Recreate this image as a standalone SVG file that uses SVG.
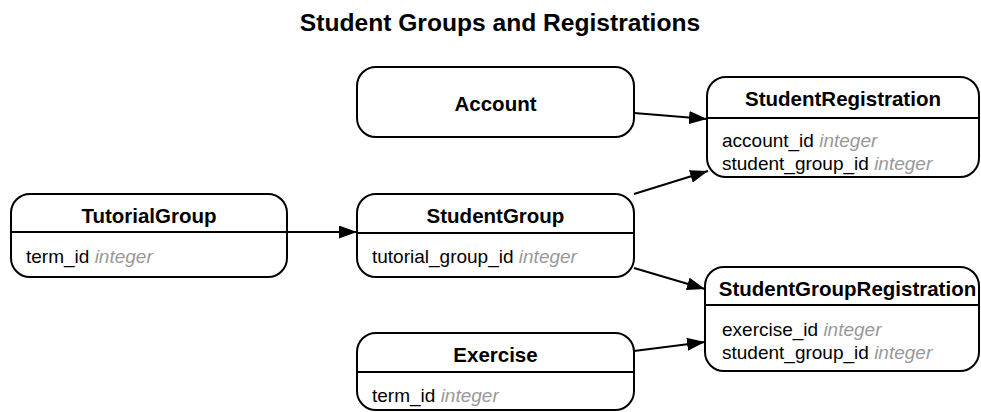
<svg xmlns="http://www.w3.org/2000/svg" width="981" height="412" viewBox="0 0 981 412">
<style>
  .box { fill: #ffffff; stroke: #000000; stroke-width: 2; }
  .div { stroke: #000000; stroke-width: 2; }
  .name { font-family: "Liberation Sans", Arial, sans-serif; font-weight: bold; font-size: 20.5px; fill: #000000; text-anchor: middle; }
  .row { font-family: "Liberation Sans", Arial, sans-serif; font-size: 19px; fill: #000000; }
  .type { font-style: italic; fill: #999999; }
  .title { font-family: "Liberation Sans", Arial, sans-serif; font-weight: bold; font-size: 24.6px; fill: #000000; text-anchor: middle; }
  .edge { stroke: #000000; stroke-width: 2; fill: none; marker-end: url(#arrow); }
</style>
<defs>
  <marker id="arrow" markerUnits="userSpaceOnUse" markerWidth="18" markerHeight="13" refX="18" refY="6.5" orient="auto">
    <path d="M0,0 L18,6.5 L0,13 z" fill="#000000"/>
  </marker>
</defs>
<rect width="981" height="412" fill="#ffffff"/>
<text class="title" x="500" y="31">Student Groups and Registrations</text>

<g id="connectors">
  <line class="edge" x1="287" y1="232" x2="357" y2="232"/>
  <line class="edge" x1="634" y1="113" x2="707" y2="119"/>
  <line class="edge" x1="634" y1="194" x2="708" y2="171"/>
  <line class="edge" x1="634" y1="268" x2="705" y2="289"/>
  <line class="edge" x1="634" y1="351" x2="705" y2="342"/>
</g>

<g id="TutorialGroup">
  <rect class="box" x="11" y="194" width="276" height="83" rx="19"/>
  <line class="div" x1="11" y1="232" x2="287" y2="232"/>
  <text class="name" x="149" y="223">TutorialGroup</text>
  <text class="row" x="26" y="263">term_id <tspan class="type">integer</tspan></text>
</g>

<g id="Account">
  <rect class="box" x="357" y="67" width="277" height="70" rx="19"/>
  <text class="name" x="495.5" y="111">Account</text>
</g>

<g id="StudentGroup">
  <rect class="box" x="357" y="194" width="277" height="83" rx="19"/>
  <line class="div" x1="357" y1="233" x2="634" y2="233"/>
  <text class="name" x="495.5" y="223">StudentGroup</text>
  <text class="row" x="372" y="263">tutorial_group_id <tspan class="type">integer</tspan></text>
</g>

<g id="Exercise">
  <rect class="box" x="357" y="333" width="277" height="77" rx="19"/>
  <line class="div" x1="357" y1="372" x2="634" y2="372"/>
  <text class="name" x="495.5" y="362">Exercise</text>
  <text class="row" x="372" y="402">term_id <tspan class="type">integer</tspan></text>
</g>

<g id="StudentRegistration">
  <rect class="box" x="707" y="77" width="272" height="100" rx="19"/>
  <line class="div" x1="707" y1="118" x2="979" y2="118"/>
  <text class="name" x="843" y="106">StudentRegistration</text>
  <text class="row" x="722" y="147">account_id <tspan class="type">integer</tspan></text>
  <text class="row" x="722" y="170">student_group_id <tspan class="type">integer</tspan></text>
</g>

<g id="StudentGroupRegistration">
  <rect class="box" x="705" y="267" width="274" height="104" rx="19"/>
  <line class="div" x1="705" y1="305" x2="979" y2="305"/>
  <text class="name" x="847.5" y="296">StudentGroupRegistration</text>
  <text class="row" x="722" y="336">exercise_id <tspan class="type">integer</tspan></text>
  <text class="row" x="722" y="359">student_group_id <tspan class="type">integer</tspan></text>
</g>
</svg>
